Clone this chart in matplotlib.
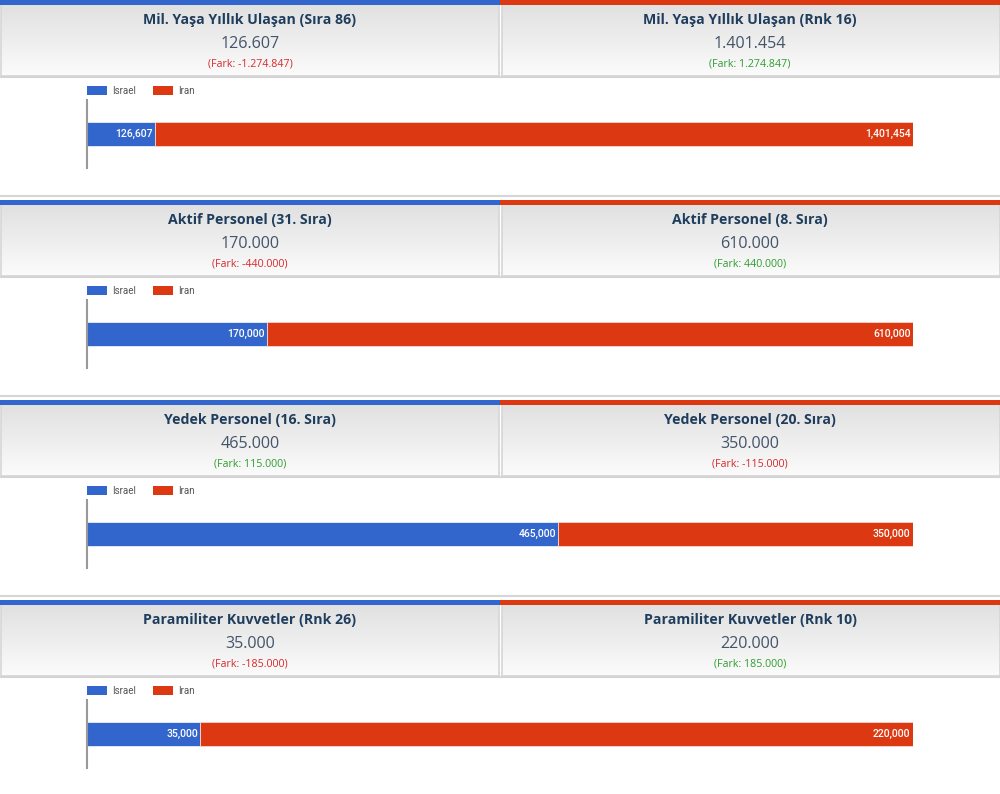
import matplotlib
matplotlib.use('Agg')
import matplotlib.pyplot as plt
import numpy as np
from matplotlib.patches import Rectangle

# data
titles_israel = ['Mil. Yaşa Yıllık Ulaşan (Sıra 86)', 'Aktif Personel (31. Sıra)',
                 'Yedek Personel (16. Sıra)', 'Paramiliter Kuvvetler (Rnk 26)']
titles_iran = ['Mil. Yaşa Yıllık Ulaşan (Rnk 16)', 'Aktif Personel (8. Sıra)',
               'Yedek Personel (20. Sıra)', 'Paramiliter Kuvvetler (Rnk 10)']
israel = [126607, 170000, 465000, 35000]
iran = [1401454, 610000, 350000, 220000]
countries = ['Israel', 'Iran']

BLUE = '#3366cc'
RED = '#dc3912'
W, H = 1000, 794

def tr(n):
    # turkish thousands format 1.401.454
    return f'{n:,}'.replace(',', '.')

fig = plt.figure(figsize=(W / 100, H / 100), dpi=100)
bg = fig.add_axes([0, 0, 1, 1])
bg.set_xlim(0, W)
bg.set_ylim(H, 0)
bg.axis('off')

grad = np.linspace(0, 1, 64).reshape(-1, 1)
top_c = np.array([0.88, 0.88, 0.88])
bot_c = np.array([0.985, 0.985, 0.985])
grad_img = top_c + (bot_c - top_c) * grad[..., None]

for i in range(4):
    y0 = i * 200
    # header boxes with gradient
    for x0, x1 in [(1, 499), (502, 1000)]:
        bg.imshow(grad_img, extent=(x0, x1, y0 + 76, y0 + 4), aspect='auto', zorder=1)
        bg.add_patch(Rectangle((x0, y0 + 4), x1 - x0, 72, fill=False, ec='#d6d6d6', lw=1.2, zorder=2))
    # colored stripes
    bg.add_patch(Rectangle((0, y0), 500, 4.5, color=BLUE, lw=0, zorder=3))
    bg.add_patch(Rectangle((500, y0), 500, 4.5, color=RED, lw=0, zorder=3))
    bg.plot([0, W], [y0 + 76.5, y0 + 76.5], color='#d4d4d4', lw=1.5, zorder=3)
    if i < 3:
        bg.plot([0, W], [y0 + 195.5, y0 + 195.5], color='#d6d6d6', lw=1.5, zorder=3)

    diff = israel[i] - iran[i]
    for cx, title, val, d in [(250, titles_israel[i], israel[i], diff),
                              (750, titles_iran[i], iran[i], -diff)]:
        bg.text(cx, y0 + 20, title, ha='center', va='center', fontsize=10.2,
                fontweight='bold', color='#1f3d5c', family='Open Sans', zorder=4)
        bg.text(cx, y0 + 44, tr(val), ha='center', va='center', fontsize=11.6,
                color='#44556a', family='Open Sans', zorder=4)
        col = '#2e9e2e' if d > 0 else '#d8282a'
        sign = '-' if d < 0 else ''
        bg.text(cx, y0 + 64, f'(Fark: {sign}{tr(abs(d))})', ha='center', va='center',
                fontsize=7.7, color=col, family='Open Sans', zorder=4)

    # legend
    for lx, c, name in [(87, BLUE, countries[0]), (153, RED, countries[1])]:
        bg.add_patch(Rectangle((lx, y0 + 86), 20, 9, color=c, lw=0, zorder=4))
        bg.text(lx + 25, y0 + 90.5, name, ha='left', va='center', fontsize=7,
                color='#555555', family='Roboto', zorder=4)

    # stacked 100% bar
    ax = fig.add_axes([87 / W, 1 - (y0 + 168) / H, 826 / W, 68 / H])
    total = israel[i] + iran[i]
    fi = israel[i] / total
    fr = iran[i] / total
    ax.barh([0], [fi], left=[0], height=0.706, color=BLUE, edgecolor='#e8eefa', lw=0.6)
    ax.barh([0], [fr], left=[fi], height=0.706, color=RED, edgecolor='#f6d8d0', lw=0.6)
    ax.set_xlim(0, 1)
    ax.set_ylim(-1, 1)
    ax.text(fi - 0.003, 0, f'{israel[i]:,}', ha='right', va='center', fontsize=7.5,
            color='white', family='Roboto', fontweight='medium')
    ax.text(1 - 0.003, 0, f'{iran[i]:,}', ha='right', va='center', fontsize=7.5,
            color='white', family='Roboto', fontweight='medium')
    ax.set_xticks([])
    ax.set_yticks([])
    for s in ['top', 'right', 'bottom']:
        ax.spines[s].set_visible(False)
    ax.spines['left'].set_color('#999999')
    ax.spines['left'].set_linewidth(1.5)
    ax.patch.set_alpha(0)

fig.savefig('out.png', dpi=100)
